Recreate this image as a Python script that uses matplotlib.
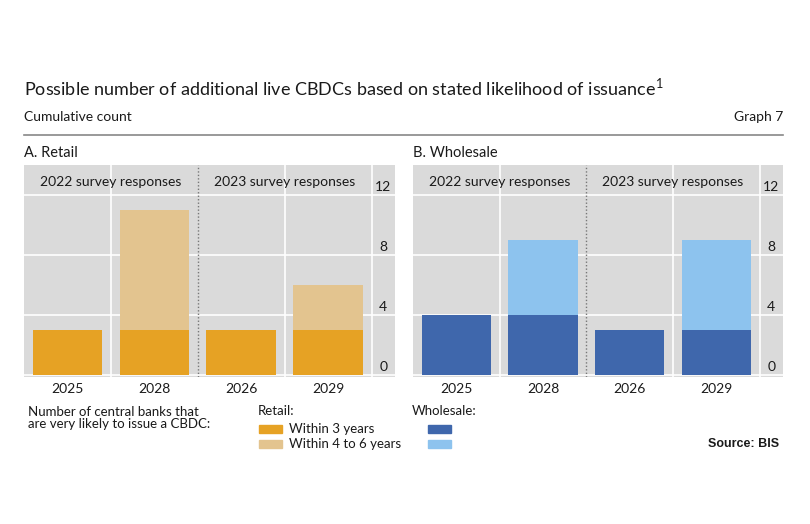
import matplotlib
matplotlib.use("Agg")
import matplotlib.pyplot as plt
from matplotlib.patches import Rectangle
from matplotlib.lines import Line2D

plt.rcParams['font.family'] = ['Lato', 'DejaVu Sans']
plt.rcParams['mathtext.fontset'] = 'custom'
plt.rcParams['mathtext.rm'] = 'Lato'

# data
categories = ['2025', '2028', '2026', '2029']
survey_labels = ['2022 survey responses', '2023 survey responses']
retail_3y = [3, 3, 3, 3]
retail_4to6 = [0, 8, 0, 3]
wholesale_3y = [4, 4, 3, 3]
wholesale_4to6 = [0, 5, 0, 6]
y_ticks = [0, 4, 8, 12]

c_ret_dark = '#E6A224'
c_ret_light = '#E3C48F'
c_whl_dark = '#3F67AC'
c_whl_light = '#8DC3EE'
bg = '#DADADA'
txt = '#1a1a1a'

W, H = 810, 524
fig = plt.figure(figsize=(W / 100, H / 100), dpi=100)

def fx(px):
    return px / W

def fy(py):
    return 1 - py / H

def panel(left, right, title, v1, v2, c1, c2):
    ax = fig.add_axes([fx(left), fy(377), fx(right - left), (377 - 165) / H])
    ax.set_facecolor(bg)
    x = list(range(len(categories)))
    ax.bar(x, v1, width=0.8, color=c1, zorder=3)
    ax.bar(x, v2, width=0.8, bottom=v1, color=c2, zorder=3)
    ax.set_xlim(-0.5, 3.77)
    ax.set_ylim(-0.13, 14)
    for yt in y_ticks:
        ax.axhline(yt, color='white', lw=1.2, zorder=1)
    for xv in [0.5, 2.5, 3.5]:
        ax.axvline(xv, color='white', lw=1.2, zorder=1)
    ax.axvline(1.5, color='#777777', lw=1.0, ls=(0, (1, 1.5)), zorder=4)
    ax.set_xticks(x)
    ax.set_xticklabels(categories, fontsize=10, color=txt)
    ax.set_yticks([])
    ax.tick_params(axis='x', length=0, pad=4)
    for s in ax.spines.values():
        s.set_visible(False)
    for yt in y_ticks:
        ax.text(3.635, yt + 0.12, str(yt), ha='center', va='bottom',
                fontsize=10, color=txt)
    ax.text(0.5, 12.9, survey_labels[0], ha='center', va='center',
            fontsize=10, color=txt, zorder=5)
    ax.text(2.5, 12.9, survey_labels[1], ha='center', va='center',
            fontsize=10, color=txt, zorder=5)
    fig.text(fx(left), fy(153), title, ha='left', va='center',
             fontsize=10.5, color=txt)
    return ax

panel(24, 395, 'A. Retail', retail_3y, retail_4to6, c_ret_dark, c_ret_light)
panel(413, 783, 'B. Wholesale', wholesale_3y, wholesale_4to6, c_whl_dark, c_whl_light)

# header
fig.text(fx(24), fy(87), 'Possible number of additional live CBDCs based on stated likelihood of issuance$^{1}$',
         ha='left', va='center', fontsize=13, color=txt)
fig.text(fx(24), fy(117), 'Cumulative count', ha='left', va='center', fontsize=10, color=txt)
fig.text(fx(783), fy(117), 'Graph 7', ha='right', va='center', fontsize=10, color=txt)
fig.add_artist(Line2D([fx(24), fx(783)], [fy(135), fy(135)], color='#888888', lw=1.2))

# legend
fig.text(fx(28), fy(418), 'Number of central banks that\nare very likely to issue a CBDC:',
         ha='left', va='center', fontsize=9.5, color=txt, linespacing=1.1)
fig.text(fx(258), fy(411), 'Retail:', ha='left', va='center', fontsize=9.5, color=txt)
fig.text(fx(412), fy(411), 'Wholesale:', ha='left', va='center', fontsize=9.5, color=txt)
legend_rows = [(429, c_ret_dark, c_whl_dark, 'Within 3 years'),
               (444, c_ret_light, c_whl_light, 'Within 4 to 6 years')]
for yc, cr, cw, lab in legend_rows:
    fig.add_artist(Rectangle((fx(259), fy(yc + 4)), fx(23), 8 / H, color=cr,
                             transform=fig.transFigure))
    fig.add_artist(Rectangle((fx(428), fy(yc + 4)), fx(23), 8 / H, color=cw,
                             transform=fig.transFigure))
    fig.text(fx(289), fy(yc), lab, ha='left', va='center', fontsize=9.5, color=txt)

fig.text(fx(779), fy(444), 'Source: BIS', ha='right', va='center', fontsize=9,
         color=txt, fontweight='bold', family=['Liberation Sans', 'DejaVu Sans'])

fig.savefig('out.png', dpi=100, facecolor='white')
